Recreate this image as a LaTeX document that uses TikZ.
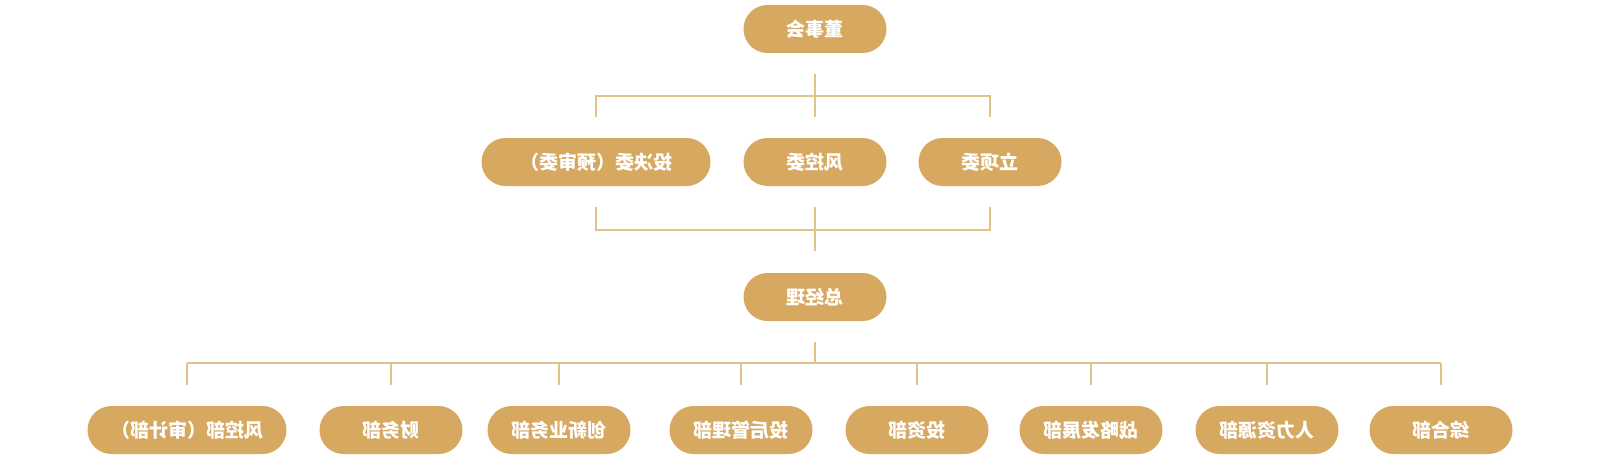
\documentclass[tikz,border=0pt]{standalone}
\usepackage{fontspec}
\usepackage{graphicx}
\setmainfont{Noto Sans CJK SC}
\definecolor{gold}{HTML}{D7A85F}
\definecolor{lin}{HTML}{E2C28B}
\begin{document}
\begin{tikzpicture}[x=1pt,y=-1pt,
 box/.style={fill=gold, rounded corners=24pt, minimum height=48pt, minimum width=143pt, text=white, font=\bfseries\fontsize{19}{19}\selectfont, inner sep=0pt},
 ln/.style={draw=lin, line width=1.2pt}]
\useasboundingbox (0,0) rectangle (1600,460);
% nodes
\node[box] (dsh) at (815,29) {\reflectbox{董事会}};
\node[box, minimum width=229pt] (tjw) at (596,162) {\reflectbox{投决委（预审委）}};
\node[box] (fkw) at (815,162) {\reflectbox{风控委}};
\node[box] (lxw) at (990,162) {\reflectbox{立项委}};
\node[box] (zjl) at (815,297) {\reflectbox{总经理}};
\node[box, minimum width=199pt] (b1) at (187,430) {\reflectbox{风控部（审计部）}};
\node[box] (b2) at (391,430) {\reflectbox{财务部}};
\node[box] (b3) at (559,430) {\reflectbox{创新业务部}};
\node[box] (b4) at (741,430) {\reflectbox{投后管理部}};
\node[box] (b5) at (917,430) {\reflectbox{投资部}};
\node[box] (b6) at (1091,430) {\reflectbox{战略发展部}};
\node[box] (b7) at (1267,430) {\reflectbox{人力资源部}};
\node[box] (b8) at (1441,430) {\reflectbox{综合部}};
% top connector
\coordinate (ta) at (815,74);
\coordinate (tb) at (815,117);
\coordinate (tl) at (596,96);
\coordinate (tr) at (990,96);
\coordinate (tlb) at (596,117);
\coordinate (trb) at (990,117);
\draw[ln] (ta) -- (tb);
\draw[ln] (tlb) -- (tl) -- (tr) -- (trb);
% middle connector
\coordinate (ml) at (596,207);
\coordinate (mr) at (990,207);
\coordinate (mlb) at (596,230);
\coordinate (mrb) at (990,230);
\coordinate (ma) at (815,207);
\coordinate (mb) at (815,251);
\draw[ln] (ml) -- (mlb) -- (mrb) -- (mr);
\draw[ln] (ma) -- (mb);
% bottom connector
\coordinate (ba) at (815,342);
\coordinate (bb) at (815,363);
\draw[ln] (ba) -- (bb);
\coordinate (bl) at (187,363);
\coordinate (br) at (1441,363);
\draw[ln] (bl) -- (br);
\foreach \n/\x in {b1/187,b2/391,b3/559,b4/741,b5/917,b6/1091,b7/1267,b8/1441}{
  \coordinate (\n t) at (\x,363);
  \coordinate (\n d) at (\x,385);
  \draw[ln] (\n t) -- (\n d);
}
\end{tikzpicture}
\end{document}
